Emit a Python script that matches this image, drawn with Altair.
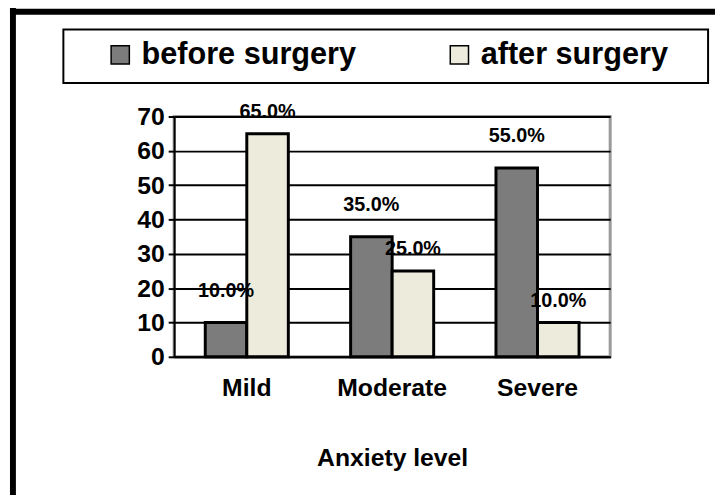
import altair as alt
import pandas as pd

levels = ["Mild", "Moderate", "Severe"]
series = ["before surgery", "after surgery"]
before = [10, 35, 55]
after = [65, 25, 10]
before_labels = ["10.0%", "35.0%", "55.0%"]
after_labels = ["65.0%", "25.0%", "10.0%"]
y_ticks = [0, 10, 20, 30, 40, 50, 60, 70]
colors = ["#7c7c7c", "#ecebdc"]

rows = []
for i, lvl in enumerate(levels):
    rows.append({"level": lvl, "group": series[0], "value": before[i], "label": before_labels[i]})
    rows.append({"level": lvl, "group": series[1], "value": after[i], "label": after_labels[i]})
df = pd.DataFrame(rows)

FONT = "Liberation Sans"
W, H = 441, 243

x = alt.X("level:N", sort=levels, title="Anxiety level",
          scale=alt.Scale(paddingInner=0, paddingOuter=0),
          axis=alt.Axis(labelAngle=0, ticks=False, labelFontSize=25, labelFont=FONT,
                        labelFontWeight="bold", labelColor="black", labelPadding=19,
                        titleFontSize=25, titleFont=FONT, titleFontWeight="bold",
                        titleColor="black", titlePadding=46, domainColor="black",
                        domainWidth=2))
xo = alt.XOffset("group:N", sort=series,
                 scale=alt.Scale(paddingOuter=0.75, paddingInner=0))
y = alt.Y("value:Q", title=None,
          scale=alt.Scale(domain=[0, 70], nice=False, zero=True),
          axis=alt.Axis(values=y_ticks, labelOverlap=False, labelFontSize=25, labelFont=FONT,
                        labelFontWeight="bold", labelColor="black",
                        tickColor="black", tickSize=6, tickWidth=2,
                        domainColor="black", domainWidth=2, labelPadding=4,
                        gridColor="black", gridWidth=2))

base = alt.Chart(df)

bars = base.mark_bar(stroke="black", strokeWidth=3).encode(
    x=x,
    xOffset=xo,
    y=y,
    color=alt.Color("group:N", sort=series,
                    scale=alt.Scale(domain=series, range=colors),
                    legend=alt.Legend(title=None, orient="none", direction="horizontal",
                                      legendX=-70, legendY=-78, symbolType="square",
                                      symbolSize=340, symbolStrokeColor="black",
                                      symbolStrokeWidth=1.5, symbolOpacity=1,
                                      labelFontSize=31, labelFont=FONT,
                                      labelFontWeight="bold", labelColor="black",
                                      labelOffset=6, columnPadding=88, padding=0,
                                      labelLimit=400)),
)

lab_before = base.transform_filter(alt.datum.group == series[0]).mark_text(
    font=FONT, fontSize=20, fontWeight="bold", color="black", baseline="bottom", dy=-22
).encode(x=x, xOffset=xo, y=y, text="label:N")

lab_after = base.transform_filter(alt.datum.group == series[1]).mark_text(
    font=FONT, fontSize=20, fontWeight="bold", color="black", baseline="bottom", dy=-12
).encode(x=x, xOffset=xo, y=y, text="label:N")

one = alt.Chart(pd.DataFrame({"a": [0]}))
legend_box = one.mark_rect(fillOpacity=0, stroke="black", strokeWidth=2).encode(
    x=alt.value(-112), x2=alt.value(540), y=alt.value(-88), y2=alt.value(-34))
frame_top = one.mark_rule(color="black", strokeWidth=6).encode(
    x=alt.value(-166), x2=alt.value(560), y=alt.value(-106))
frame_left = one.mark_rule(color="black", strokeWidth=6).encode(
    x=alt.value(-163), y=alt.value(-110), y2=alt.value(385))

chart = alt.layer(bars, lab_before, lab_after, legend_box, frame_top, frame_left).properties(
    width=W, height=H,
    autosize=alt.AutoSizeParams(type="none"),
    padding={"left": 168, "top": 107, "right": 106, "bottom": 137},
    background="white",
).configure_view(stroke="#9a9a9a", strokeWidth=3)

chart.save("out.html", embed_options={"renderer": "svg", "actions": False})
